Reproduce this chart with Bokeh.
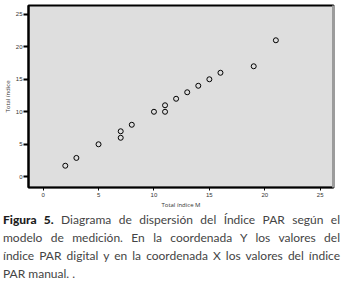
from bokeh.plotting import figure
from bokeh.models import LinearAxis, FixedTicker, Range1d, Div, AllLabels
from bokeh.layouts import column
from bokeh.embed import file_html
from bokeh.resources import INLINE

# Data
manual_par = [2, 3, 5, 7, 7, 8, 10, 11, 11, 12, 13, 14, 15, 16, 19, 21]
digital_par = [1.7, 2.9, 5, 6, 7, 8, 10, 10, 11, 12, 13, 14, 15, 16, 17, 21]
tick_values = [0, 5, 10, 15, 20, 25]
x_label = "Total índice M"
y_label = "Total índice"
caption_lines = [
    "Diagrama de dispersión del Índice PAR según el",
    "modelo de medición. En la coordenada Y los valores del",
    "índice PAR digital y en la coordenada X los valores del índice",
    "PAR manual. .",
]
caption_bold = "Figura 5."

p = figure(width=345, height=211, output_backend="svg", toolbar_location=None,
           x_range=Range1d(-1.32, 26.2), y_range=Range1d(start=-1.65, end=26.35),
           min_border_left=26, min_border_right=12, min_border_top=5, min_border_bottom=24,
           background_fill_color="#dedede", border_fill_color="white",
           x_axis_location=None, y_axis_location=None)
p.outline_line_color = "black"
p.outline_line_width = 2
p.grid.visible = False

font = "Open Sans"

left = LinearAxis(ticker=FixedTicker(ticks=tick_values), axis_label=y_label,
                  major_label_policy=AllLabels())
left.axis_line_width = 2
left.axis_line_color = "black"
left.major_tick_line_width = 2
left.major_tick_out = 5
left.major_tick_in = 0
left.minor_tick_line_color = None
left.major_label_text_font_size = "6px"
left.major_label_text_color = "#333333"
left.major_label_standoff = 1
left.axis_label_text_font = font
left.axis_label_text_font_size = "6px"
left.axis_label_text_font_style = "normal"
left.axis_label_text_color = "#333333"
left.axis_label_standoff = 1
p.add_layout(left, "left")

bottom = LinearAxis(ticker=FixedTicker(ticks=tick_values), axis_label=x_label,
                    major_label_policy=AllLabels())
bottom.axis_line_width = 1.5
bottom.axis_line_color = "black"
bottom.major_tick_line_width = 1
bottom.major_tick_out = 3
bottom.major_tick_in = 0
bottom.minor_tick_line_color = None
bottom.major_label_text_font_size = "6px"
bottom.major_label_text_color = "#333333"
bottom.major_label_standoff = 2
bottom.axis_label_text_font = font
bottom.axis_label_text_font_size = "6px"
bottom.axis_label_text_font_style = "normal"
bottom.axis_label_text_color = "#333333"
bottom.axis_label_standoff = 1
p.add_layout(bottom, "below")

right = LinearAxis(ticker=FixedTicker(ticks=[]))
right.axis_line_width = 3
right.axis_line_color = "#9c9c9c"
right.major_tick_line_color = None
right.minor_tick_line_color = None
right.major_label_text_font_size = "0px"
right.major_label_standoff = 0
p.add_layout(right, "right")

p.scatter(manual_par, digital_par, marker="circle", size=5, fill_color=None,
          line_color="black", line_width=1.0)

line_style = "text-align: justify; text-align-last: justify;"
html = (
    '<div style="font-family: Lato; font-size: 12px; line-height: 18px; color: #444444; '
    'width: 337px; margin-left: 3px;">'
    f'<div style="{line_style}"><b style="color:#1c1c1c; font-weight:900;">{caption_bold}</b> {caption_lines[0]}</div>'
    f'<div style="{line_style}">{caption_lines[1]}</div>'
    f'<div style="{line_style}">{caption_lines[2]}</div>'
    f'<div>{caption_lines[3]}</div>'
    '</div>'
)
caption = Div(text=html, width=345, height=72, margin=(0, 0, 0, 0))

layout = column(p, caption, spacing=0)

open("out.html", "w").write(file_html(layout, INLINE))
